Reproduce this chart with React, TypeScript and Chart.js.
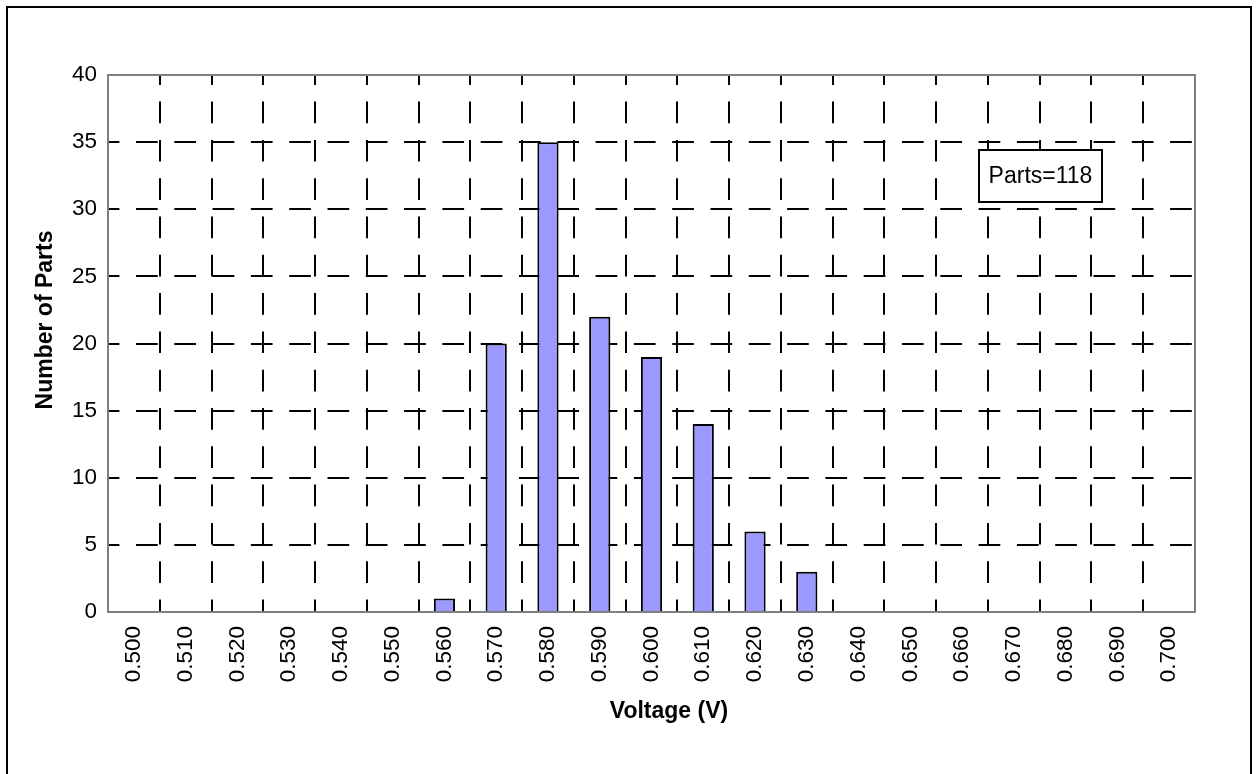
import React, { useEffect, useRef } from "react";
import { Chart, registerables } from "chart.js";

Chart.register(...registerables);

const categories: string[] = [
  "0.500", "0.510", "0.520", "0.530", "0.540", "0.550", "0.560", "0.570", "0.580", "0.590", "0.600",
  "0.610", "0.620", "0.630", "0.640", "0.650", "0.660", "0.670", "0.680", "0.690", "0.700",
];
const partCounts: number[] = [0, 0, 0, 0, 0, 0, 1, 20, 35, 22, 19, 14, 6, 3, 0, 0, 0, 0, 0, 0, 0];
const yTicks: number[] = [0, 5, 10, 15, 20, 25, 30, 35, 40];
const xAxisTitle = "Voltage (V)";
const yAxisTitle = "Number of Parts";
const annotationText = "Parts=118";

const FONT = "'Liberation Sans', Arial, sans-serif";

const decorPlugin = {
  id: "decor",
  afterDatasetsDraw(chart: any) {
    const { ctx, chartArea } = chart;
    ctx.save();
    ctx.strokeStyle = "#808080";
    ctx.lineWidth = 2;
    ctx.setLineDash([]);
    ctx.strokeRect(chartArea.left, chartArea.top, chartArea.right - chartArea.left, chartArea.bottom - chartArea.top);
    ctx.restore();
  },
  afterDraw(chart: any) {
    const { ctx } = chart;
    ctx.save();
    ctx.setLineDash([]);
    ctx.strokeStyle = "#000";
    ctx.lineWidth = 2;
    ctx.beginPath();
    ctx.moveTo(7, 800);
    ctx.lineTo(7, 7);
    ctx.lineTo(1251, 7);
    ctx.lineTo(1251, 800);
    ctx.stroke();

    ctx.fillStyle = "#000";
    ctx.font = `bold 23px ${FONT}`;
    ctx.textAlign = "center";
    ctx.textBaseline = "middle";
    ctx.fillText(xAxisTitle, 669, 712);
    ctx.save();
    ctx.translate(46, 320);
    ctx.rotate(-Math.PI / 2);
    ctx.fillText(yAxisTitle, 0, 0);
    ctx.restore();

    const bx = 979, by = 150, bw = 123, bh = 52;
    ctx.fillStyle = "#fff";
    ctx.fillRect(bx, by, bw, bh);
    ctx.strokeStyle = "#000";
    ctx.lineWidth = 2;
    ctx.strokeRect(bx, by, bw, bh);
    ctx.fillStyle = "#000";
    ctx.font = `23px ${FONT}`;
    ctx.fillText(annotationText, bx + bw / 2, by + bh / 2 + 1);
    ctx.restore();
  },
};

export default function App() {
  const canvasRef = useRef<HTMLCanvasElement | null>(null);

  useEffect(() => {
    if (!canvasRef.current) return;
    const chart = new Chart(canvasRef.current, {
      type: "bar",
      data: {
        labels: categories,
        datasets: [
          {
            data: partCounts,
            backgroundColor: "#9999FF",
            borderColor: "#000000",
            borderWidth: 2,
            barPercentage: 0.41,
            categoryPercentage: 1,
          },
        ],
      },
      options: {
        responsive: false,
        animation: false,
        devicePixelRatio: 1,
        layout: { padding: { left: 0, top: 75, right: 62, bottom: 0 } },
        plugins: { legend: { display: false }, title: { display: false }, tooltip: { enabled: false } },
        scales: {
          x: {
            offset: true,
            grid: {
              offset: true,
              color: "#000",
              lineWidth: 2,
              drawTicks: false,
            },
            border: { display: true, color: "#808080", width: 2, dash: [21.7, 16.6], dashOffset: 11.7 },
            ticks: {
              autoSkip: false,
              minRotation: 90,
              maxRotation: 90,
              padding: 14,
              color: "#000",
              font: { family: FONT, size: 22.5 },
            },
            afterFit: (scale: any) => {
              scale.height = 774 - 612;
            },
          },
          y: {
            min: 0,
            max: 40,
            afterBuildTicks: (scale: any) => {
              scale.ticks = yTicks.map((v) => ({ value: v }));
            },
            grid: {
              color: "#000",
              lineWidth: 2,
              drawTicks: false,
            },
            border: { display: true, color: "#808080", width: 2, dash: [21.7, 16.6], dashOffset: 11.3 },
            ticks: {
              padding: 11,
              color: "#000",
              font: { family: FONT, size: 22.5 },
            },
            afterFit: (scale: any) => {
              scale.width = 108;
            },
          },
        },
      },
      plugins: [decorPlugin],
    });
    return () => chart.destroy();
  }, []);

  return (
    <div style={{ position: "fixed", left: 0, top: 0, width: 1257, height: 774, background: "#fff" }}>
      <canvas ref={canvasRef} width={1257} height={774} style={{ display: "block" }} />
    </div>
  );
}
